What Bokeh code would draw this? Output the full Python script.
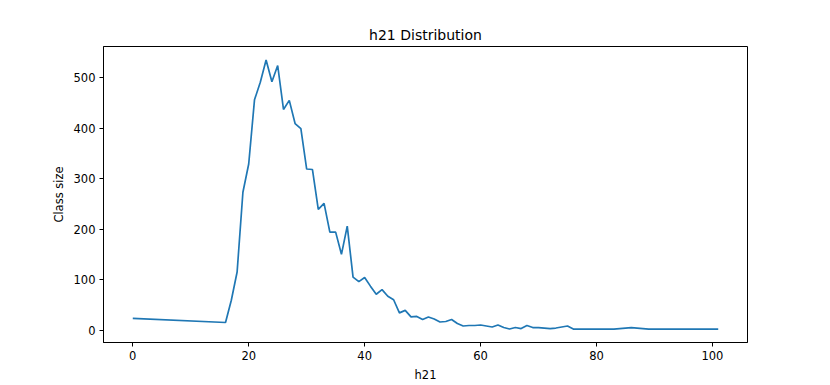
from bokeh.plotting import figure
from bokeh.models import Range1d, FixedTicker, ColumnDataSource
from bokeh.embed import file_html
from bokeh.resources import INLINE

h21_values = [0, 16, 17, 18, 19, 20, 21, 22, 23, 24, 25, 26, 27, 28, 29, 30,
              31, 32, 33, 34, 35, 36, 37, 38, 39, 40, 41, 42, 43, 44, 45,
              46, 47, 48, 49, 50, 51, 52, 53, 54, 55, 56, 57, 58, 59, 60,
              61, 62, 63, 64, 65, 66, 67, 68, 69, 70, 71, 72, 73, 74, 75,
              76, 77, 78, 79, 80, 81, 82, 83, 84, 85, 86, 87, 88, 89, 90,
              91, 92, 93, 94, 95, 96, 97, 98, 99, 100, 101]
class_sizes = [23, 15, 59, 115, 273, 329, 456, 491, 535, 492, 524, 437, 455, 409, 399, 319,
               318, 239, 251, 194, 194, 150, 206, 105, 96, 104, 87, 71, 80, 67, 60,
               34, 39, 26, 27, 21, 26, 22, 16, 17, 21, 13, 8, 9, 9, 10,
               8, 6, 10, 5, 2, 5, 3, 9, 5, 5, 4, 3, 4, 6, 8,
               2, 2, 2, 2, 2, 2, 2, 2, 3, 4, 5, 4, 3, 2, 2,
               2, 2, 2, 2, 2, 2, 2, 2, 2, 2, 2]
x_ticks = [0, 20, 40, 60, 80, 100]
y_ticks = [0, 100, 200, 300, 400, 500]

FONT = "DejaVu Sans"

src = ColumnDataSource(data=dict(x=h21_values, y=class_sizes))

p = figure(width=830, height=385, output_backend="svg", toolbar_location=None,
           x_range=Range1d(-5.05, 106.05), y_range=Range1d(-24.65, 561.65),
           min_border_left=103, min_border_right=83, min_border_top=46, min_border_bottom=43)
p.line("x", "y", source=src, line_color="#1f77b4", line_width=1.7)

p.title.text = "h21 Distribution"
p.title.align = "center"
p.title.text_font = FONT
p.title.text_font_size = "14px"
p.title.text_font_style = "normal"
p.title.text_color = "black"
p.title.standoff = 8

p.xgrid.visible = False
p.ygrid.visible = False
p.outline_line_color = "black"
p.outline_line_width = 1
p.outline_line_alpha = 1
p.background_fill_color = "white"
p.border_fill_color = "white"

p.xaxis.axis_label = "h21"
p.yaxis.axis_label = "Class size"
p.xaxis.ticker = FixedTicker(ticks=x_ticks)
p.yaxis.ticker = FixedTicker(ticks=y_ticks)
for ax in (p.xaxis[0], p.yaxis[0]):
    ax.axis_line_color = "black"
    ax.major_tick_line_color = "black"
    ax.major_tick_out = 4
    ax.major_tick_in = 0
    ax.minor_tick_line_color = None
    ax.major_label_standoff = 4
    ax.major_label_text_font = FONT
    ax.major_label_text_font_size = "11.5px"
    ax.major_label_text_color = "black"
    ax.axis_label_text_font = FONT
    ax.axis_label_text_font_size = "11.5px"
    ax.axis_label_text_font_style = "normal"
    ax.axis_label_text_color = "black"
p.xaxis.axis_label_standoff = 5
p.yaxis.axis_label_standoff = 5

open("out.html", "w").write(file_html(p, INLINE))
